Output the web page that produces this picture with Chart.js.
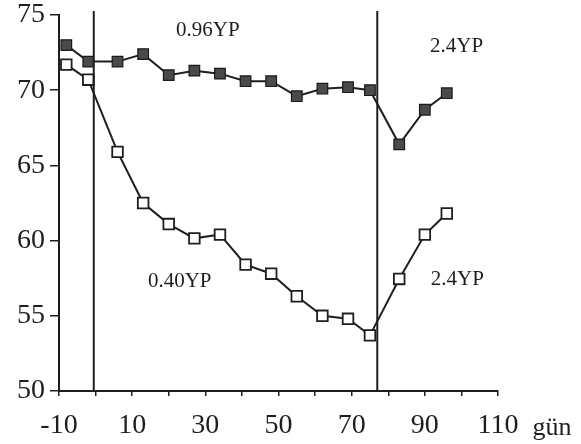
<!DOCTYPE html>
<html>
<head>
<meta charset="utf-8">
<script src="https://cdn.jsdelivr.net/npm/chart.js@4"></script>
<style>
  html, body { margin:0; padding:0; background:#fff; }
  #wrap { width:581px; height:444px; }
</style>
</head>
<body>
<div id="wrap"><canvas id="c"></canvas></div>
<script>
// gün (days) of each sampling
const days = [-8, -2, 6, 13, 20, 27, 34, 41, 48, 55, 62, 69, 75, 83, 90, 96];
// filled squares
const highSeries = [73.0, 71.9, 71.9, 72.4, 71.0, 71.3, 71.1, 70.6, 70.6, 69.6, 70.1, 70.2, 70.0, 66.4, 68.7, 69.8];
// open squares
const lowSeries = [71.7, 70.7, 65.9, 62.5, 61.1, 60.15, 60.4, 58.4, 57.8, 56.3, 55.0, 54.8, 53.7, 57.45, 60.4, 61.8];
// period boundaries
const dividers = [-0.5, 77];
// period labels [text, day, value]
const periodLabels = [
  ['0.96YP', 30.7, 74.0],
  ['2.4YP', 98.7, 72.9],
  ['0.40YP', 23, 57.3],
  ['2.4YP', 98.9, 57.4]
];

const ink = '#1e1e1e';
const serif = "'Times New Roman', 'Liberation Serif', Times, serif";

const toPoints = vals => vals.map((v, i) => ({ x: days[i], y: v }));

// vertical lines, period texts and the "gün" axis title
const extras = {
  id: 'extras',
  afterDatasetsDraw(chart) {
    const { ctx, scales: { x, y }, chartArea } = chart;
    ctx.save();
    ctx.strokeStyle = ink;
    ctx.lineWidth = 2;
    dividers.forEach(d => {
      const px = x.getPixelForValue(d);
      ctx.beginPath();
      ctx.moveTo(px, chartArea.top - 4);
      ctx.lineTo(px, chartArea.bottom);
      ctx.stroke();
    });
    ctx.fillStyle = ink;
    ctx.font = '21px ' + serif;
    ctx.textAlign = 'center';
    ctx.textBaseline = 'middle';
    periodLabels.forEach(([t, dx, dy]) => {
      ctx.fillText(t, x.getPixelForValue(dx), y.getPixelForValue(dy));
    });
    ctx.font = '26px ' + serif;
    ctx.fillText('gün', x.right + 54, chartArea.bottom + 37);
    ctx.restore();
  }
};

new Chart(document.getElementById('c'), {
  type: 'line',
  data: {
    datasets: [
      {
        data: toPoints(highSeries),
        borderColor: ink,
        borderWidth: 2,
        pointStyle: 'rect',
        pointRadius: 7.5,
        pointBorderWidth: 1.2,
        pointBackgroundColor: '#4a4a4a',
        pointBorderColor: '#1a1a1a',
        tension: 0
      },
      {
        data: toPoints(lowSeries),
        borderColor: ink,
        borderWidth: 2,
        pointStyle: 'rect',
        pointRadius: 7.5,
        pointBorderWidth: 1.8,
        pointBackgroundColor: '#fff',
        pointBorderColor: ink,
        tension: 0
      }
    ]
  },
  options: {
    responsive: true,
    maintainAspectRatio: false,
    animation: false,
    layout: { padding: { top: 15, right: 83, left: 0, bottom: 0 } },
    plugins: { legend: { display: false }, tooltip: { enabled: false } },
    scales: {
      x: {
        type: 'linear',
        min: -10,
        max: 110,
        afterFit: s => { s.height = 53; s.paddingLeft = 0; s.paddingRight = 0; },
        ticks: {
          stepSize: 10,
          autoSkip: false,
          maxRotation: 0,
          padding: 13,
          color: ink,
          font: { family: serif, size: 28 },
          callback: v => ((v + 10) % 20 === 0 ? String(v) : '')
        },
        grid: { drawOnChartArea: false, drawTicks: true, tickLength: 5, color: ink, lineWidth: 1.5 },
        border: { color: ink, width: 2 }
      },
      y: {
        min: 50,
        max: 75,
        afterFit: s => { s.width = 59; s.paddingTop = 0; s.paddingBottom = 0; },
        ticks: {
          stepSize: 5,
          padding: 5,
          color: ink,
          font: { family: serif, size: 28 }
        },
        grid: { drawOnChartArea: false, drawTicks: true, tickLength: 9, color: ink, lineWidth: 1.5 },
        border: { color: ink, width: 2 }
      }
    }
  },
  plugins: [extras]
});
</script>
</body>
</html>
